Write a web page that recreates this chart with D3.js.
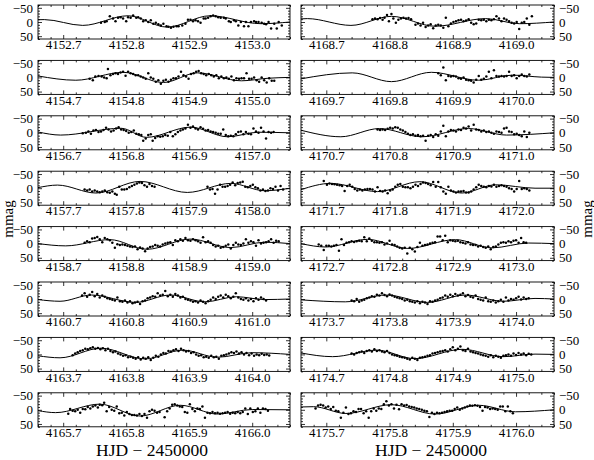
<!DOCTYPE html>
<html>
<head>
<meta charset="utf-8">
<script src="https://cdn.jsdelivr.net/npm/d3@7"></script>
<style>
body{margin:0;background:#fff}
text{font-family:"Liberation Serif","DejaVu Serif",serif;fill:#000}
</style>
</head>
<body>
<div id="chart"></div>
<script>
// first labelled tick of each panel (HJD - 2450000)
var leftStarts = [4152.7, 4154.7, 4156.7, 4157.7, 4158.7, 4160.7, 4163.7, 4165.7];
var rightStarts = [4168.7, 4169.7, 4170.7, 4171.7, 4172.7, 4173.7, 4174.7, 4175.7];
var yTicks = [-50, 0, 50];

// observations: [days after the panel's first tick, mmag]
// fits: turning points of the fitted curve, same units
var obs4152 = [[.060,3],[.066,0],[.069,-3],[.074,-20],[.079,-12],[.083,-3],[.087,-15],[.091,-17],[.095,-12],[.100,-3],[.103,-17],[.107,-15],[.111,-23],[.116,-15],[.119,-17],[.123,-12],[.127,-3],[.131,-6],[.135,0],[.139,-6],[.143,6],[.147,3],[.151,8],[.155,12],[.159,6],[.164,15],[.167,17],[.171,20],[.175,17],[.180,15],[.183,15],[.189,12],[.194,6],[.198,-8],[.202,-8],[.206,-3],[.210,-6],[.214,-3],[.218,3],[.223,-12],[.226,-12],[.230,-15],[.234,-20],[.238,-23],[.242,-20],[.246,-17],[.250,-15],[.255,-15],[.258,-12],[.263,-3],[.266,0],[.271,-6],[.274,-3],[.278,12],[.282,0],[.287,15],[.290,0],[.294,15],[.298,0],[.303,-3],[.306,0],[.310,0],[.315,3],[.319,6],[.322,8],[.326,0],[.330,23],[.335,6],[.339,23],[.342,0],[.347,12]];
var fit4152 = [[-.04,-8],[-.03,-8.5],[.031,12],[.103,-22],[.165,18],[.233,-22],[.314,6],[.36,0]];

var obs4154 = [[.042,5],[.047,10],[.051,-3],[.056,-5],[.061,-3],[.065,0],[.069,3],[.071,-30],[.075,-8],[.079,-12],[.083,-15],[.087,-12],[.091,-17],[.095,-20],[.099,-6],[.103,-20],[.107,-15],[.111,-12],[.115,-8],[.119,-8],[.123,-3],[.127,0],[.131,5],[.135,-15],[.139,0],[.143,5],[.147,15],[.151,10],[.155,22],[.159,12],[.163,8],[.167,15],[.171,8],[.175,3],[.179,3],[.183,-3],[.187,-20],[.191,-8],[.195,-3],[.199,5],[.203,-12],[.207,-15],[.211,-20],[.215,-23],[.219,-15],[.223,-12],[.227,-8],[.231,-12],[.235,-8],[.239,-3],[.243,-8],[.247,3],[.251,-3],[.255,3],[.259,0],[.263,5],[.267,-3],[.271,10],[.275,3],[.279,5],[.283,3],[.287,3],[.291,-15],[.295,5],[.299,5],[.303,0],[.307,10],[.311,15],[.315,0],[.319,10],[.323,18],[.327,3],[.331,12],[.335,12]];
var fit4154 = [[-.04,-5],[.020,10],[.095,-18],[.159,18],[.213,-16],[.283,12],[.325,3],[.36,0]];

var obs4156 = [[.031,2],[.036,0],[.040,-5],[.044,3],[.048,-8],[.052,-10],[.056,-3],[.060,-5],[.064,-10],[.068,-18],[.072,-12],[.076,-5],[.080,-8],[.084,-15],[.088,-20],[.092,-12],[.096,-10],[.100,-6],[.104,0],[.108,-3],[.112,-8],[.116,3],[.120,5],[.124,8],[.127,28],[.131,20],[.135,8],[.139,5],[.142,28],[.146,18],[.150,12],[.154,14],[.158,12],[.162,8],[.166,10],[.170,-3],[.174,12],[.178,5],[.182,-3],[.186,-8],[.190,-12],[.194,-15],[.198,-28],[.202,-18],[.206,-22],[.210,-15],[.214,-12],[.218,-20],[.222,-14],[.226,-8],[.230,-10],[.234,-5],[.238,-3],[.242,0],[.246,3],[.250,3],[.254,-12],[.258,8],[.262,12],[.266,10],[.270,12],[.274,5],[.278,-3],[.282,-5],[.286,5],[.290,-3],[.294,3],[.298,5],[.302,-15],[.306,-5],[.310,0],[.314,-18],[.318,-5],[.322,20],[.326,-3],[.330,0],[.334,-3]];
var fit4156 = [[-.04,-3],[-.004,8],[.092,-16],[.132,16],[.202,-20],[.261,14],[.31,-2],[.36,0]];

var obs4157 = [[.034,5],[.038,8],[.042,5],[.046,12],[.050,8],[.054,12],[.058,14],[.062,12],[.066,8],[.070,14],[.074,16],[.078,12],[.082,20],[.085,23],[.089,-5],[.093,5],[.097,5],[.101,3],[.105,-3],[.109,-8],[.113,-12],[.117,-17],[.121,-20],[.125,-18],[.129,-10],[.133,-5],[.137,-15],[.141,-8],[.145,-5],
  [.229,-5],[.233,5],[.237,3],[.241,20],[.245,5],[.249,-12],[.253,-5],[.257,-5],[.261,-8],[.265,-12],[.269,-20],[.273,-10],[.277,-18],[.281,-20],[.285,-23],[.289,-5],[.293,-3],[.297,-8],[.301,-12],[.305,-3],[.309,0],[.313,8],[.317,5],[.321,10],[.325,8],[.329,0],[.333,3],[.337,-5],[.341,8],[.345,-8],[.349,5]];
var fit4157 = [[-.04,-2],[-.009,-11],[.052,17],[.122,-24],[.197,15],[.266,-17],[.320,9],[.36,0]];

var obs4158 = [[.034,-3],[.038,-8],[.042,-5],[.046,-18],[.050,-20],[.054,-23],[.058,-15],[.062,-5],[.066,-20],[.070,-15],[.074,-12],[.078,-3],[.082,15],[.086,2],[.090,5],[.094,3],[.098,5],[.102,8],[.106,10],[.110,12],[.114,10],[.118,20],[.122,14],[.126,17],[.130,27],[.134,17],[.138,12],[.142,10],[.146,5],[.150,8],[.154,10],[.158,3],[.162,0],[.166,-3],[.170,-5],[.174,5],[.178,-12],[.182,-8],[.186,-15],[.190,-10],[.194,-20],[.198,-12],[.202,-10],[.206,-15],[.210,-12],[.214,-8],[.218,-3],[.222,-22],[.226,-5],[.230,-8],[.234,-3],[.238,5],[.242,10],[.246,8],[.250,15],[.254,12],[.258,8],[.262,3],[.266,17],[.270,5],[.274,-3],[.278,3],[.282,5],[.286,0],[.290,-15],[.294,-3],[.298,-8],[.302,-5],[.306,8],[.310,-12],[.314,0],[.318,-3],[.322,-5],[.326,-8],[.330,-15],[.334,-3],[.338,-10],[.342,-8]];
var fit4158 = [[-.04,0],[.004,8],[.074,-14],[.133,20],[.202,-16],[.266,14],[.32,-5],[.36,0]];

var obs4160 = [[.030,-12],[.034,-20],[.038,-8],[.042,-15],[.046,-25],[.050,-10],[.054,-18],[.058,-5],[.062,-12],[.066,-8],[.070,-3],[.074,0],[.078,3],[.082,5],[.086,-5],[.090,8],[.094,10],[.098,5],[.102,12],[.106,8],[.110,15],[.114,12],[.118,10],[.122,18],[.126,8],[.130,5],[.134,-3],[.138,-5],[.142,-10],[.146,-8],[.150,-20],[.154,-12],[.158,-15],[.162,-28],[.166,-10],[.170,-15],[.174,-8],[.178,-18],[.182,-12],[.186,-5],[.190,-8],[.194,0],[.198,3],[.202,5],[.206,10],[.210,8],[.214,12],[.218,5],[.222,10],[.226,15],[.230,8],[.234,3],[.238,-5],[.242,0],[.246,-8],[.250,-12],[.254,-5],[.258,-15],[.262,-10],[.266,-3],[.270,-8],[.274,-20],[.278,-5],[.282,0],[.286,3],[.290,-3],[.294,5],[.298,0],[.302,8],[.306,-3],[.310,3],[.314,-5],[.318,0],[.322,5]];
var fit4160 = [[-.04,2],[-.005,8],[.045,-14],[.115,12],[.170,-14],[.225,10],[.275,-8],[.32,2],[.36,0]];

var obs4163 = [[.015,3],[.019,-3],[.023,-8],[.027,-12],[.031,-15],[.035,-20],[.039,-18],[.043,-22],[.047,-25],[.051,-20],[.055,-23],[.059,-18],[.063,-22],[.067,-15],[.071,-20],[.075,-12],[.079,-8],[.083,-10],[.087,-3],[.091,0],[.095,5],[.099,3],[.103,10],[.107,8],[.111,12],[.115,15],[.119,10],[.123,18],[.127,12],[.131,15],[.135,10],[.139,20],[.143,12],[.147,5],[.151,8],[.155,0],[.159,-5],[.163,-3],[.167,-12],[.171,-10],[.175,-15],[.179,-18],[.183,-12],[.187,-20],[.191,-15],[.195,-10],[.199,-12],[.203,-5],[.207,-8],[.211,0],[.215,5],[.219,3],[.223,10],[.227,8],[.231,12],[.235,5],[.239,10],[.243,8],[.247,15],[.251,5],[.255,3],[.259,0],[.263,-3],[.267,-8],[.271,-5],[.275,-10],[.279,-3],[.283,-8],[.287,0],[.291,-5],[.295,3],[.299,-3],[.303,5],[.307,0],[.311,3],[.315,-2],[.319,2],[.323,0],[.327,4]];
var fit4163 = [[-.04,5],[-.005,12],[.06,-22],[.13,16],[.19,-15],[.245,10],[.30,-6],[.36,0]];

var obs4165 = [[.008,14],[.011,-3],[.015,3],[.019,5],[.023,0],[.027,10],[.031,-3],[.035,-2],[.039,-10],[.043,-5],[.047,-12],[.051,-15],[.055,-8],[.058,-18],[.062,-16],[.065,-25],[.069,5],[.073,-10],[.077,0],[.081,3],[.085,-12],[.089,12],[.093,10],[.097,20],[.101,8],[.105,15],[.109,18],[.113,18],[.117,20],[.121,15],[.125,22],[.129,15],[.133,28],[.137,5],[.141,0],[.145,3],[.149,10],[.153,8],[.161,26],[.165,5],[.169,-5],[.173,-18],[.177,-20],[.181,-15],[.185,-12],[.189,-10],[.193,8],[.197,10],[.201,-20],[.205,-3],[.209,5],[.213,-5],[.217,-3],[.221,-12],[.225,28],[.229,10],[.233,12],[.237,8],[.241,12],[.245,10],[.249,14],[.253,12],[.257,10],[.261,8],[.265,14],[.269,10],[.273,12],[.277,8],[.281,12],[.285,8],[.289,-5],[.293,15],[.297,-5],[.301,8],[.305,5],[.309,-5],[.313,10],[.317,-5],[.321,-3],[.325,3]];
var fit4165 = [[-.04,3],[-.012,10],[.058,-20],[.122,22],[.186,-16],[.245,15],[.30,-1],[.36,0]];

var obs4168 = [[.073,-10],[.077,-12],[.081,-10],[.085,-14],[.089,-8],[.092,-15],[.096,-25],[.099,-3],[.103,-28],[.106,-12],[.110,3],[.114,-8],[.118,-12],[.122,-15],[.126,-12],[.130,-14],[.134,-10],[.141,10],[.145,5],[.149,12],[.153,3],[.157,18],[.161,12],[.165,8],[.169,22],[.173,12],[.177,10],[.181,12],[.185,20],[.189,-15],[.193,15],[.197,5],[.201,0],[.205,-3],[.209,-6],[.213,-8],[.217,-3],[.221,-5],[.225,-10],[.229,3],[.233,8],[.237,5],[.241,-8],[.245,-6],[.249,-8],[.253,-3],[.257,-8],[.261,-6],[.265,-10],[.269,-20],[.273,-12],[.277,-3],[.281,-12],[.285,-8],[.289,-3],[.293,3],[.297,5],[.301,0],[.305,25],[.309,3],[.313,0],[.317,-12],[.321,10],[.325,-20]];
var fit4168 = [[-.04,-11],[-.03,-12],[.039,12],[.103,-20],[.172,15],[.252,-12],[.305,6],[.36,0]];

var obs4169 = [[.177,-15],[.181,-8],[.185,-35],[.189,10],[.193,-5],[.197,-3],[.201,-5],[.205,-3],[.209,3],[.213,5],[.217,0],[.221,8],[.225,10],[.229,12],[.233,18],[.237,8],[.241,-5],[.245,8],[.249,5],[.253,-3],[.257,-20],[.261,3],[.265,-25],[.269,-5],[.273,-3],[.277,-5],[.281,-3],[.285,-5],[.289,-20],[.293,-5],[.297,-8],[.301,3],[.305,-5],[.309,-10],[.313,-5],[.317,-3],[.321,-10]];
var fit4169 = [[-.04,5],[.041,-16],[.103,15],[.166,-18],[.241,10],[.294,-8],[.34,-1],[.36,0]];

var obs4170 = [[.081,-12],[.085,-10],[.089,-12],[.093,-10],[.097,-14],[.101,-18],[.105,-15],[.109,-20],[.113,-18],[.117,-12],[.121,-8],[.125,-3],[.129,3],[.133,8],[.137,5],[.141,10],[.145,8],[.149,12],[.153,10],[.157,28],[.161,10],[.165,8],[.169,15],[.173,5],[.177,10],[.181,-5],[.185,-25],[.189,12],[.193,-5],[.197,-10],[.201,-8],[.205,-5],[.209,-12],[.213,-10],[.217,-18],[.221,-15],[.225,-22],[.229,-8],[.233,-28],[.237,-12],[.241,-10],[.245,-5],[.249,-8],[.253,-3],[.257,-5],[.261,0],[.265,3],[.269,-5],[.273,-3],[.277,0],[.281,-15],[.285,-18],[.289,-5],[.293,-3],[.297,5],[.301,3],[.305,8],[.309,12],[.313,-5],[.317,15],[.321,0]];
var fit4170 = [[-.04,-9],[.023,14],[.084,-15],[.151,14],[.225,-15],[.285,8],[.36,0]];

var obs4171 = [[-.004,-25],[.001,-12],[.005,-17],[.009,-15],[.013,-14],[.017,-12],[.021,-10],[.025,-8],[.029,10],[.033,-8],[.037,-12],[.041,-5],[.045,3],[.049,8],[.053,5],[.057,8],[.061,5],[.065,3],[.069,3],[.073,5],[.077,12],[.081,-3],[.085,10],[.089,12],[.093,8],[.097,18],[.101,8],[.105,5],[.109,-5],[.113,-12],[.117,-15],[.121,-5],[.125,-3],[.129,-3],[.133,0],[.137,-5],[.141,-12],[.145,-8],[.149,-15],[.153,-20],[.157,-18],[.161,-15],[.165,-10],[.169,-22],[.173,-5],[.177,-22],[.181,-3],[.185,12],[.189,20],[.193,-5],[.197,8],[.201,12],[.205,15],[.209,12],[.213,12],[.217,10],[.221,15],[.225,15],[.229,12],[.233,5],[.237,-3],[.241,-12],[.245,-8],[.249,-5],[.253,-3],[.257,-8],[.261,-6],[.265,-12],[.269,-5],[.273,-8],[.277,-10],[.281,-8],[.285,-5],[.289,0],[.293,3],[.297,12],[.301,3],[.305,-25],[.309,3],[.313,0],[.317,3],[.321,8]];
var fit4171 = [[-.04,5],[.007,-17],[.081,12],[.148,-23],[.214,17],[.268,-12],[.33,0],[.36,0]];

var obs4172 = [[-.012,3],[-.008,8],[-.004,23],[.000,8],[.004,8],[.008,10],[.012,8],[.016,5],[.020,25],[.024,-15],[.028,5],[.032,-3],[.036,-5],[.040,-8],[.044,-6],[.048,-8],[.052,-10],[.056,-8],[.060,-22],[.064,-8],[.068,-18],[.072,-10],[.076,-5],[.080,-5],[.084,-3],[.088,-5],[.092,3],[.096,0],[.100,-10],[.104,3],[.108,5],[.112,10],[.116,15],[.120,17],[.124,15],[.128,35],[.132,15],[.136,20],[.140,28],[.144,12],[.148,-3],[.152,8],[.156,5],[.160,3],[.164,0],[.168,-3],[.172,-5],[.176,-25],[.180,-25],[.184,-12],[.188,-28],[.192,-5],[.196,-12],[.200,-10],[.204,-8],[.208,-10],[.212,-5],[.216,-3],[.220,0],[.224,-5],[.228,3],[.232,5],[.236,5],[.240,10],[.244,8],[.248,12],[.252,15],[.256,10],[.260,20],[.264,12],[.268,10],[.272,3],[.276,-3],[.280,-5],[.284,-3],[.288,-8],[.292,-5],[.296,-10],[.300,-12],[.304,-3],[.308,-20],[.312,-5],[.316,-3]];
var fit4172 = [[-.04,0],[-.001,12],[.065,-15],[.129,17],[.204,-14],[.262,15],[.32,-2],[.36,0]];

var obs4173 = [[.040,5],[.044,8],[.048,0],[.052,10],[.056,5],[.060,3],[.064,-3],[.068,-5],[.072,-10],[.076,-8],[.080,-15],[.084,-12],[.088,-20],[.092,-14],[.096,-10],[.100,-16],[.104,-12],[.108,-8],[.112,-5],[.116,-3],[.120,0],[.124,5],[.128,3],[.132,8],[.136,10],[.140,12],[.144,8],[.148,15],[.152,10],[.156,12],[.160,18],[.164,8],[.168,10],[.172,5],[.176,3],[.180,-3],[.184,-5],[.188,-12],[.192,-8],[.196,-15],[.200,-10],[.204,-18],[.208,-12],[.212,-15],[.216,-20],[.220,-10],[.224,-14],[.228,-8],[.232,-5],[.236,-12],[.240,0],[.244,3],[.248,5],[.252,-5],[.256,8],[.260,10],[.264,5],[.268,12],[.272,8],[.276,3],[.280,10],[.284,-5],[.288,5],[.292,0],[.296,3],[.300,-3],[.304,-8],[.308,2],[.312,-5],[.316,0],[.320,-3]];
var fit4173 = [[-.04,3],[.030,10],[.095,-14],[.160,12],[.220,-14],[.28,8],[.33,-2],[.36,0]];

var obs4174 = [[.040,-3],[.044,0],[.048,-5],[.052,-8],[.056,-10],[.060,-5],[.064,-12],[.068,-15],[.072,-10],[.076,-18],[.080,-12],[.084,-15],[.088,-10],[.092,-8],[.096,-12],[.100,-5],[.104,0],[.108,3],[.112,5],[.116,8],[.120,10],[.124,12],[.128,15],[.132,18],[.136,12],[.140,15],[.144,20],[.148,12],[.152,10],[.156,8],[.160,5],[.164,3],[.168,-3],[.172,-5],[.176,-8],[.180,-10],[.184,-12],[.188,-15],[.192,-10],[.196,-18],[.200,-25],[.204,-15],[.208,-20],[.212,-28],[.216,-15],[.220,-12],[.224,-20],[.228,-10],[.232,-8],[.236,-5],[.240,-3],[.244,0],[.248,3],[.252,5],[.256,8],[.260,3],[.264,10],[.268,5],[.272,8],[.276,12],[.280,5],[.284,3],[.288,0],[.292,5],[.296,-3],[.300,2],[.304,-5],[.308,0],[.312,-3],[.316,3],[.320,-2],[.324,0]];
var fit4174 = [[-.04,-5],[.010,8],[.080,-15],[.140,15],[.215,-18],[.280,8],[.33,-1],[.36,0]];

var obs4175 = [[-.017,-5],[-.013,-15],[-.009,-18],[-.005,-15],[-.001,-8],[.003,-12],[.007,-3],[.011,-10],[.015,3],[.019,5],[.023,28],[.027,10],[.031,-8],[.035,15],[.039,12],[.043,5],[.047,8],[.051,-3],[.055,-3],[.059,12],[.063,5],[.067,28],[.071,5],[.075,-5],[.079,3],[.083,-5],[.087,-3],[.091,-20],[.095,-30],[.099,-15],[.103,-20],[.107,-5],[.111,-18],[.115,-2],[.119,-20],[.123,-15],[.127,-17],[.131,-12],[.135,-10],[.139,-8],[.143,-5],[.147,-3],[.151,0],[.155,3],[.159,5],[.163,25],[.167,10],[.171,15],[.175,10],[.179,12],[.183,10],[.187,8],[.191,5],[.195,3],[.199,3],[.203,-3],[.207,-8],[.211,0],[.215,-5],[.219,-8],[.223,-12],[.227,-15],[.231,-14],[.235,-16],[.239,-14],[.243,-10],[.247,3],[.251,-10],[.255,-8],[.259,-3],[.263,-5],[.267,-3],[.271,0],[.275,-12],[.279,-12],[.283,5],[.287,-12],[.291,5],[.295,12]];
var fit4175 = [[-.04,-10],[-.02,-11],[.031,13],[.103,-18],[.172,15],[.241,-16],[.299,7],[.36,0]];

var leftObs = [obs4152, obs4154, obs4156, obs4157, obs4158, obs4160, obs4163, obs4165];
var leftFit = [fit4152, fit4154, fit4156, fit4157, fit4158, fit4160, fit4163, fit4165];
var rightObs = [obs4168, obs4169, obs4170, obs4171, obs4172, obs4173, obs4174, obs4175];
var rightFit = [fit4168, fit4169, fit4170, fit4171, fit4172, fit4173, fit4174, fit4175];

var W = 594, H = 460;
var colX = [38, 301], colW = [252, 253];
var rowTop = 5, rowStep = 55.4, panelH = 34;
var serif = '"Liberation Serif", "DejaVu Serif", serif';

var svg = d3.select("#chart").append("svg")
  .attr("width", W).attr("height", H);

var fmtX = d3.format(".1f");

function drawPanel(col, row, start, obs, fit) {
  var w = colW[col], h = panelH;
  var g = svg.append("g")
    .attr("transform", "translate(" + colX[col] + "," + (rowTop + row * rowStep) + ")");

  var x = d3.scaleLinear().domain([start - 0.04, start + 0.36]).range([0, w]);
  var y = d3.scaleLinear().domain([-60, 60]).range([0, h]);

  var major = [0, 0.1, 0.2, 0.3].map(function(d) { return +(start + d).toFixed(1); });
  var minor = d3.range(-0.04, 0.361, 0.02).map(function(d) { return start + d; })
    .filter(function(v) { return major.every(function(m) { return Math.abs(m - v) > 0.005; }); });
  var yMinor = d3.range(-60, 61, 10).filter(function(v) { return yTicks.indexOf(v) < 0; });

  function style(a) {
    a.select(".domain").remove();
    a.attr("font-family", null);
    a.selectAll("line").attr("stroke", "#000").attr("stroke-width", 0.8);
    a.selectAll("text").style("font-family", serif).style("font-size", "13px");
  }

  // x axes: labels at bottom, ticks inward on bottom and top
  g.append("g").attr("transform", "translate(0," + h + ")")
    .call(d3.axisBottom(x).tickValues(major).tickSizeInner(-4).tickSizeOuter(0)
      .tickPadding(1).tickFormat(fmtX)).call(style);
  g.append("g").attr("transform", "translate(0," + h + ")")
    .call(d3.axisBottom(x).tickValues(minor).tickSize(-2).tickFormat("")).call(style);
  g.append("g")
    .call(d3.axisTop(x).tickValues(major).tickSize(-4).tickFormat("")).call(style);
  g.append("g")
    .call(d3.axisTop(x).tickValues(minor).tickSize(-2).tickFormat("")).call(style);

  // y axes: labels on the outer side of each column
  var yl = d3.axisLeft(y).tickValues(yTicks).tickSizeInner(-4).tickSizeOuter(0).tickPadding(5);
  var yr = d3.axisRight(y).tickValues(yTicks).tickSizeInner(-4).tickSizeOuter(0).tickPadding(5);
  if (col == 0) yr.tickFormat(""); else yl.tickFormat("");
  g.append("g").call(yl).call(style);
  g.append("g").attr("transform", "translate(" + w + ",0)").call(yr).call(style);
  g.append("g").call(d3.axisLeft(y).tickValues(yMinor).tickSize(-2).tickFormat("")).call(style);
  g.append("g").attr("transform", "translate(" + w + ",0)")
    .call(d3.axisRight(y).tickValues(yMinor).tickSize(-2).tickFormat("")).call(style);

  g.append("rect").attr("width", w).attr("height", h)
    .attr("fill", "none").attr("stroke", "#000").attr("stroke-width", 0.9);

  var line = d3.line()
    .x(function(d) { return x(start + d[0]); })
    .y(function(d) { return y(d[1]); })
    .curve(d3.curveMonotoneX);
  g.append("path").datum(fit).attr("d", line)
    .attr("fill", "none").attr("stroke", "#000").attr("stroke-width", 1);

  g.append("g").selectAll("circle").data(obs).enter().append("circle")
    .attr("cx", function(d) { return x(start + d[0]); })
    .attr("cy", function(d) { return y(d[1]); })
    .attr("r", 1.25).attr("fill", "#000");
}

leftStarts.forEach(function(s, i) { drawPanel(0, i, s, leftObs[i], leftFit[i]); });
rightStarts.forEach(function(s, i) { drawPanel(1, i, s, rightObs[i], rightFit[i]); });

// axis titles
var lastBase = rowTop + 7 * rowStep + panelH;
[152, 431].forEach(function(cx) {
  svg.append("text").attr("x", cx).attr("y", lastBase + 29)
    .attr("text-anchor", "middle")
    .style("font-family", serif).style("font-size", "17.5px")
    .text("HJD \u2212 2450000");
});
[[8, 219], [587, 219]].forEach(function(p) {
  svg.append("text").attr("transform", "translate(" + p[0] + "," + p[1] + ") rotate(-90)")
    .attr("text-anchor", "middle").attr("dy", "0.35em")
    .style("font-family", serif).style("font-size", "15px")
    .text("mmag");
});
</script>
</body>
</html>
